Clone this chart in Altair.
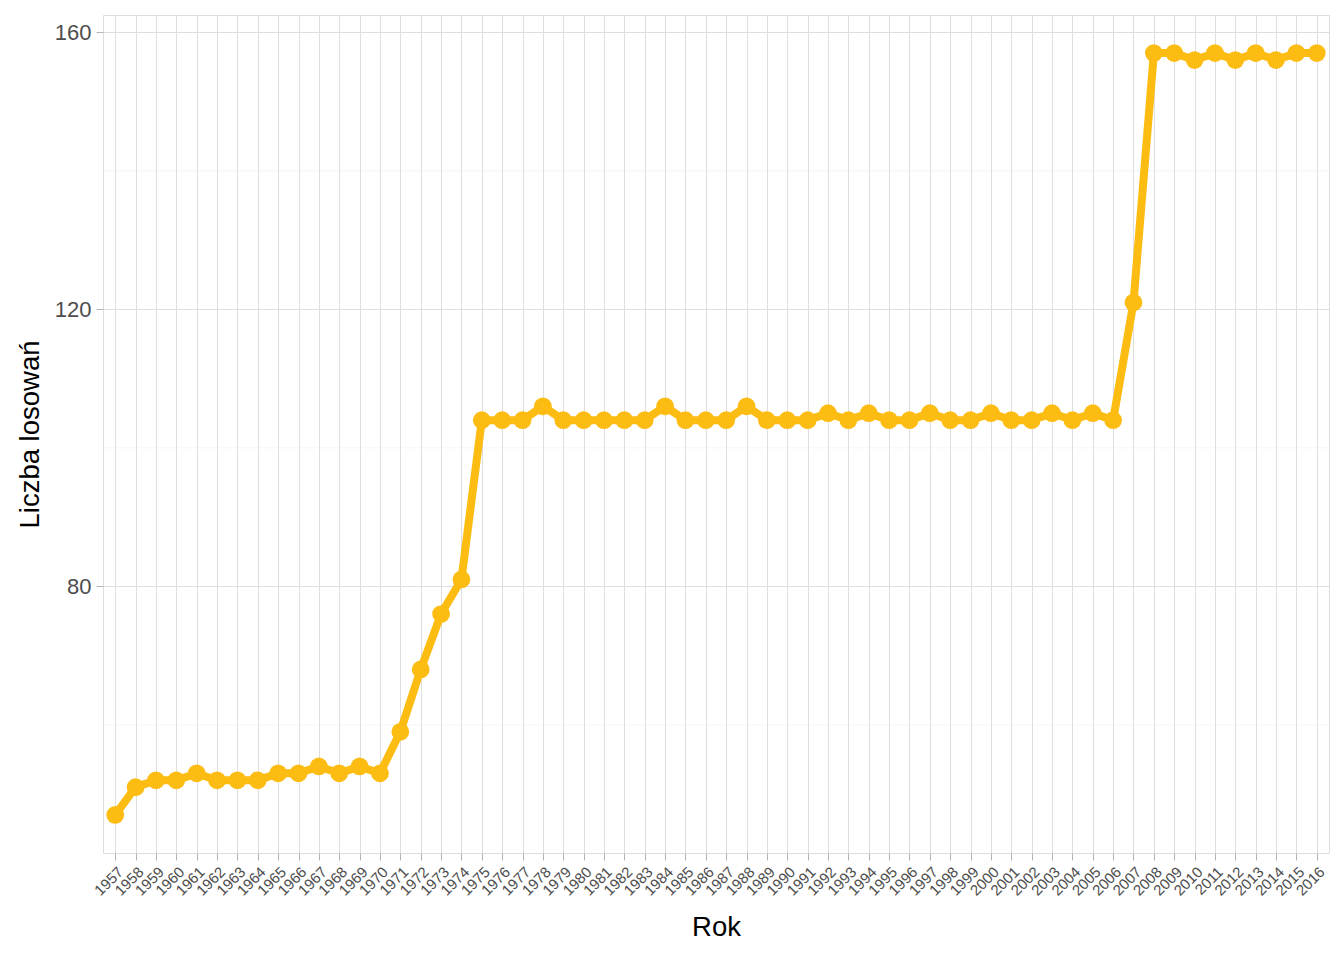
import altair as alt
import pandas as pd

years = list(range(1957, 2017))
draws = [47, 51, 52, 52, 53, 52, 52, 52, 53, 53, 54, 53, 54, 53, 59, 68, 76, 81,
         104, 104, 104, 106, 104, 104, 104, 104, 104, 106, 104, 104, 104, 106,
         104, 104, 104, 105, 104, 105, 104, 104, 105, 104, 104, 105, 104, 104,
         105, 104, 105, 104,
         121, 157, 157, 156, 157, 156, 157, 156, 157, 157]
y_ticks = [80, 120, 160]
y_minor = [60, 100, 140]

df = pd.DataFrame({"Rok": [str(y) for y in years], "Liczba": draws})
minor_df = pd.DataFrame({"v": y_minor})

COL = "#FCBC12"
FONT = "Liberation Sans"

x_enc = alt.X(
    "Rok:O",
    sort=[str(y) for y in years],
    scale=alt.Scale(type="point", padding=0.6),
    axis=alt.Axis(
        title="Rok", titleFontSize=27.5, titleFont=FONT, titleColor="#000000",
        titleFontWeight="normal", titlePadding=15,
        labelAngle=-45, labelAlign="right", labelBaseline="top",
        labelFontSize=15, labelColor="#4d4d4d", labelFont=FONT, labelPadding=4,
        labelOverlap=False, labelBound=False,
        tickColor="#b3b3b3", tickSize=7, domain=False,
        grid=True, gridColor="#dedede", gridWidth=1,
    ),
)
y_scale = alt.Scale(domain=[41.5, 162.5], nice=False, zero=False)
y_enc = alt.Y(
    "Liczba:Q",
    scale=y_scale,
    axis=alt.Axis(
        title="Liczba losowań", titleFontSize=27.5, titleFont=FONT, titleColor="#000000",
        titleFontWeight="normal", titlePadding=10,
        values=y_ticks, labelFontSize=22, labelColor="#4d4d4d", labelFont=FONT,
        labelPadding=5, tickColor="#b3b3b3", tickSize=7, domain=False,
        grid=True, gridColor="#dedede", gridWidth=1,
    ),
)

minor = alt.Chart(minor_df).mark_rule(color="#ececec", strokeWidth=0.6).encode(
    y=alt.Y("v:Q", scale=y_scale)
)
line = alt.Chart(df).mark_line(color=COL, strokeWidth=8).encode(x=x_enc, y=y_enc)
pts = alt.Chart(df).mark_circle(color=COL, opacity=1, size=314).encode(x=x_enc, y=y_enc)

chart = (
    alt.layer(minor, line, pts)
    .properties(
        width=1226, height=838,
        autosize=alt.AutoSizeParams(type="none"),
        padding={"left": 95, "top": 7, "right": 7, "bottom": 90},
    )
    .configure_view(stroke="#b3b3b3", strokeWidth=1)
    .configure(background="white")
)

chart.save("out.html", embed_options={"renderer": "svg", "actions": False})
